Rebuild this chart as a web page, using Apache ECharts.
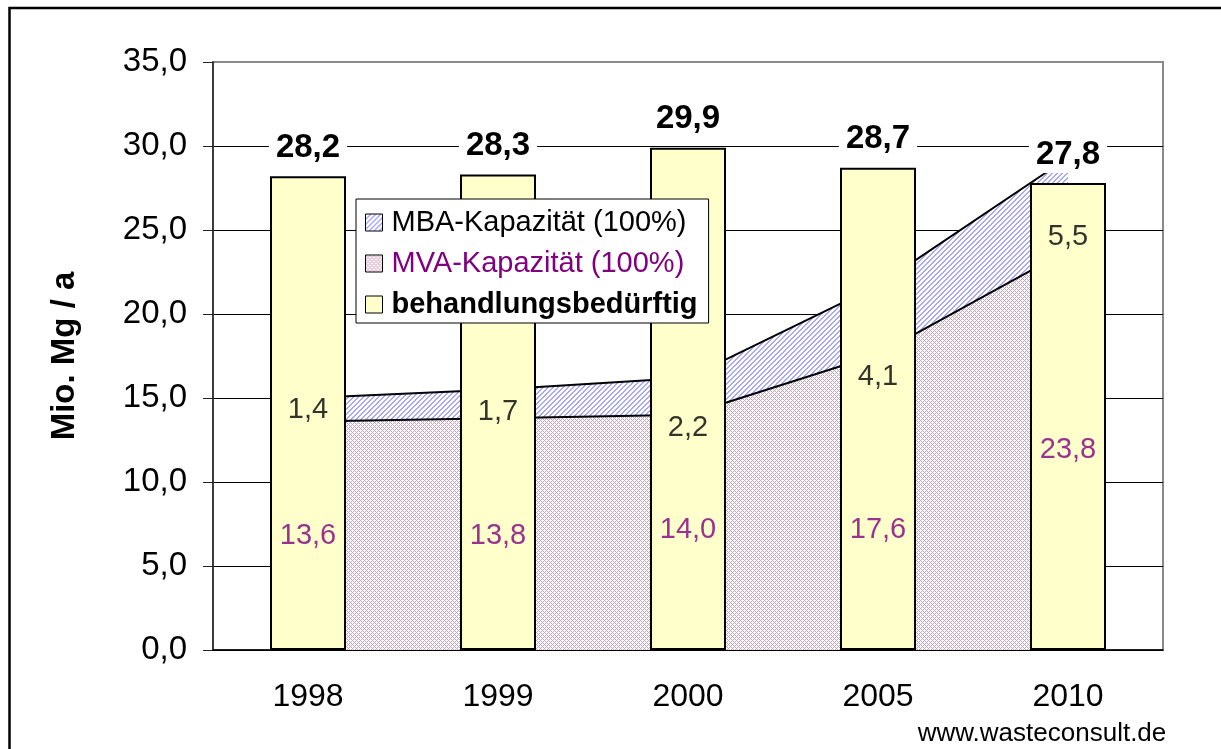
<!DOCTYPE html>
<html>
<head>
<meta charset="utf-8">
<script src="https://cdn.jsdelivr.net/npm/echarts@6/dist/echarts.min.js"></script>
<style>
  html, body { margin: 0; background: #fff; }
  #chart { width: 1221px; height: 749px; }
</style>
</head>
<body>
<div id="chart"></div>
<script>
// Werte aus der Vorlage (Mio. Mg / a)
const years = ['1998', '1999', '2000', '2005', '2010'];
const bedarf = [28.2, 28.3, 29.9, 28.7, 27.8];
const mva = [13.6, 13.8, 14.0, 17.6, 23.8];
const mba = [1.4, 1.7, 2.2, 4.1, 5.5];
const yMin = 0, yMax = 35, yStep = 5;

const NAME_MBA = 'MBA-Kapazität (100%)';
const NAME_MVA = 'MVA-Kapazität (100%)';
const NAME_BED = 'behandlungsbedürftig';

const FONT = '"Liberation Sans", Arial, sans-serif';
const fmt = (v) => v.toFixed(1).replace('.', ',');

// Etiketten der Flächen: Bandmitte, dazu kleine Verschiebung in px (wie in Excel von Hand gezogen)
const mvaNudge = [0, 2, -2, 28, 0];
const mbaNudge = [0, 8, 32, 57, 33];

function hatch(size, color, hit) {
  const c = document.createElement('canvas');
  c.width = c.height = size;
  const g = c.getContext('2d');
  g.fillStyle = '#fff'; g.fillRect(0, 0, size, size);
  g.fillStyle = color;
  for (let x = 0; x < size; x++) for (let y = 0; y < size; y++) if (hit(x, y)) g.fillRect(x, y, 1, 1);
  return { image: c, repeat: 'repeat' };
}
// schräg schraffiert (///) und rautenförmig gekreuzt, wie die Excel-Muster
const blueHatch = hatch(5, '#a8a8ff', (x, y) => (x + y) % 5 === 4 || (x + y) % 5 === 0);
const pinkHatch = hatch(4, '#d39cbc', (x, y) => (x + y) % 4 === 0 || (x - y + 4) % 4 === 0);

function bandLabels(base, vals, nudge, color) {
  return {
    type: 'scatter', z: 6, silent: true, symbolSize: 1,
    itemStyle: { color: 'rgba(0,0,0,0)' },
    data: vals.map((v, i) => ({ value: [i, base[i] + v / 2], label: { offset: [0, nudge[i]] } })),
    label: {
      show: true, position: 'inside', fontSize: 29, fontFamily: FONT, color,
      formatter: (p) => fmt(vals[p.dataIndex]),
    },
  };
}

const chart = echarts.init(document.getElementById('chart'), null, { renderer: 'canvas' });
chart.setOption({
  animation: false,
  backgroundColor: '#fff',
  textStyle: { fontFamily: FONT },
  grid: { left: 213, right: 58, top: 62, bottom: 99, show: true, borderColor: '#8a8a8a', borderWidth: 2 },
  legend: {
    orient: 'vertical', left: 356, top: 199, z: 20,
    padding: [9, 11, 4, 9], itemGap: 12, itemWidth: 17, itemHeight: 17,
    backgroundColor: '#fff', borderColor: '#000', borderWidth: 1,
    textStyle: { fontSize: 29, fontFamily: FONT, color: '#000', padding: [0, 0, 0, 4] },
    data: [
      { name: NAME_MBA, icon: 'rect', itemStyle: { color: blueHatch, borderColor: '#000', borderWidth: 1 } },
      { name: NAME_MVA, icon: 'rect', itemStyle: { color: pinkHatch, borderColor: '#000', borderWidth: 1 },
        textStyle: { color: '#800080' } },
      { name: NAME_BED, icon: 'rect', itemStyle: { color: '#ffffcc', borderColor: '#000', borderWidth: 1 },
        textStyle: { fontWeight: 'bold' } },
    ],
  },
  xAxis: {
    type: 'category', data: years,
    axisLine: { lineStyle: { color: '#000', width: 1.5 } },
    axisTick: { length: 10, lineStyle: { color: '#000' } },
    axisLabel: { fontSize: 32, margin: 31, color: '#000', fontFamily: FONT },
  },
  yAxis: {
    type: 'value', min: yMin, max: yMax, interval: yStep,
    name: 'Mio. Mg / a', nameLocation: 'middle', nameGap: 132,
    nameTextStyle: { fontSize: 33, fontWeight: 'bold', color: '#000', fontFamily: FONT },
    axisLine: { show: true, lineStyle: { color: '#222', width: 1.5 } },
    axisTick: { show: true, length: 10, lineStyle: { color: '#222' } },
    axisLabel: { fontSize: 33, margin: 26, color: '#000', fontFamily: FONT, formatter: fmt },
    splitLine: { show: true, showMaxLine: false, lineStyle: { color: '#000', width: 1 } },
  },
  series: [
    {
      type: 'line', name: NAME_MVA, stack: 'kap', data: mva, z: 2, symbol: 'none',
      itemStyle: { color: '#d39cbc' },
      lineStyle: { color: '#000', width: 2 },
      areaStyle: { color: pinkHatch, opacity: 1 },
    },
    {
      type: 'line', name: NAME_MBA, stack: 'kap', data: mba, z: 2, symbol: 'none',
      itemStyle: { color: '#a8a8ff' },
      lineStyle: { color: '#000', width: 2 },
      areaStyle: { color: blueHatch, opacity: 1 },
    },
    {
      type: 'bar', name: NAME_BED, data: bedarf, barWidth: '40%', z: 4,
      itemStyle: { color: '#ffffcc', borderColor: '#000', borderWidth: 2 },
      label: {
        show: true, position: 'top', distance: 10, formatter: (p) => fmt(p.value),
        fontSize: 33, fontWeight: 'bold', color: '#000', fontFamily: FONT,
        backgroundColor: '#fff', padding: [2, 7],
      },
    },
    bandLabels(mva.map(() => 0), mva, mvaNudge, '#800080'),
    bandLabels(mva, mba, mbaNudge, '#000'),
  ],
  graphic: [
    { type: 'rect', silent: true, shape: { x: 9.5, y: 8, width: 1230, height: 760 },
      style: { fill: 'none', stroke: '#000', lineWidth: 2.5 } },
    { type: 'text', silent: true, x: 1042, y: 734,
      style: { text: 'www.wasteconsult.de', fontSize: 26, fontFamily: FONT, fill: '#000',
        textAlign: 'center', textVerticalAlign: 'middle' } },
  ],
});
window.addEventListener('resize', () => chart.resize());
</script>
</body>
</html>
